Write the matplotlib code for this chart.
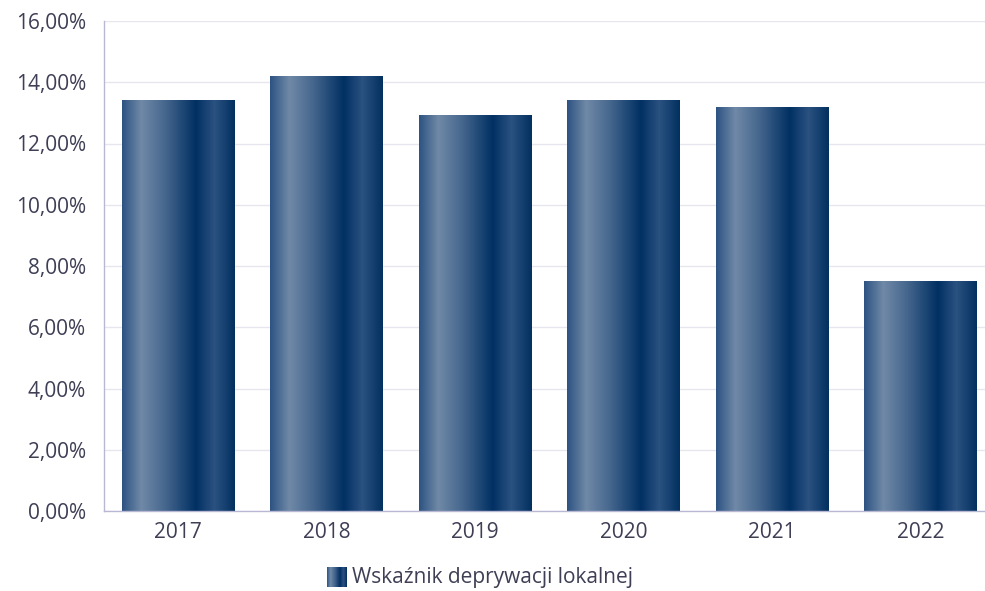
import numpy as np
import matplotlib
matplotlib.use("Agg")
import matplotlib.pyplot as plt
from matplotlib.colors import LinearSegmentedColormap

years = ["2017", "2018", "2019", "2020", "2021", "2022"]
values = [13.42, 14.20, 12.90, 13.42, 13.16, 7.48]
yticks = [0, 2, 4, 6, 8, 10, 12, 14, 16]
ytick_labels = ["0,00%", "2,00%", "4,00%", "6,00%", "8,00%", "10,00%", "12,00%", "14,00%", "16,00%"]
legend_label = "Wskaźnik deprywacji lokalnej"

plt.rcParams['font.family'] = ['Open Sans', 'DejaVu Sans']

W, H = 985, 591
fig = plt.figure(figsize=(W / 100, H / 100), dpi=100)
ax = fig.add_axes([104 / W, (H - 511) / H, 891 / W, 490 / H])

cmap = LinearSegmentedColormap.from_list("bar", [
    (0.00, "#2d5382"),
    (0.17, "#7089a7"),
    (0.38, "#46678e"),
    (0.655, "#013063"),
    (0.82, "#2b5281"),
    (1.00, "#02305f"),
])
grad = np.linspace(0, 1, 256).reshape(1, -1)

bw = 0.76
for i, v in enumerate(values):
    ax.imshow(grad, cmap=cmap, aspect='auto', extent=[i - bw / 2, i + bw / 2, 0, v],
              zorder=3, interpolation='bilinear')

ax.set_xlim(-0.5, len(years) - 0.5)
ax.set_ylim(0, 16)
ax.set_yticks(yticks)
ax.set_yticklabels(ytick_labels)
ax.set_xticks(range(len(years)))
ax.set_xticklabels(years)

txt = "#3e3e55"
fs = 15
ax.tick_params(axis='y', length=0, pad=13, labelsize=fs, labelcolor=txt)
ax.tick_params(axis='x', length=0, pad=8, labelsize=fs, labelcolor=txt)
ax.grid(axis='y', color="#e6e6ee", linewidth=1, zorder=0)
ax.set_axisbelow(True)
for s in ["top", "right"]:
    ax.spines[s].set_visible(False)
for s in ["left", "bottom"]:
    ax.spines[s].set_color("#b8b8d4")
    ax.spines[s].set_linewidth(1)
    ax.spines[s].set_zorder(4)

# legend
lax = fig.add_axes([327 / W, (H - 587) / H, 20 / W, 20 / H])
lax.imshow(grad, cmap=cmap, aspect='auto', extent=[0, 1, 0, 1], interpolation='bilinear')
lax.axis('off')
fig.text(352 / W, (H - 577) / H, legend_label, ha='left', va='center', fontsize=fs, color=txt)

fig.savefig("out.png", dpi=100)
